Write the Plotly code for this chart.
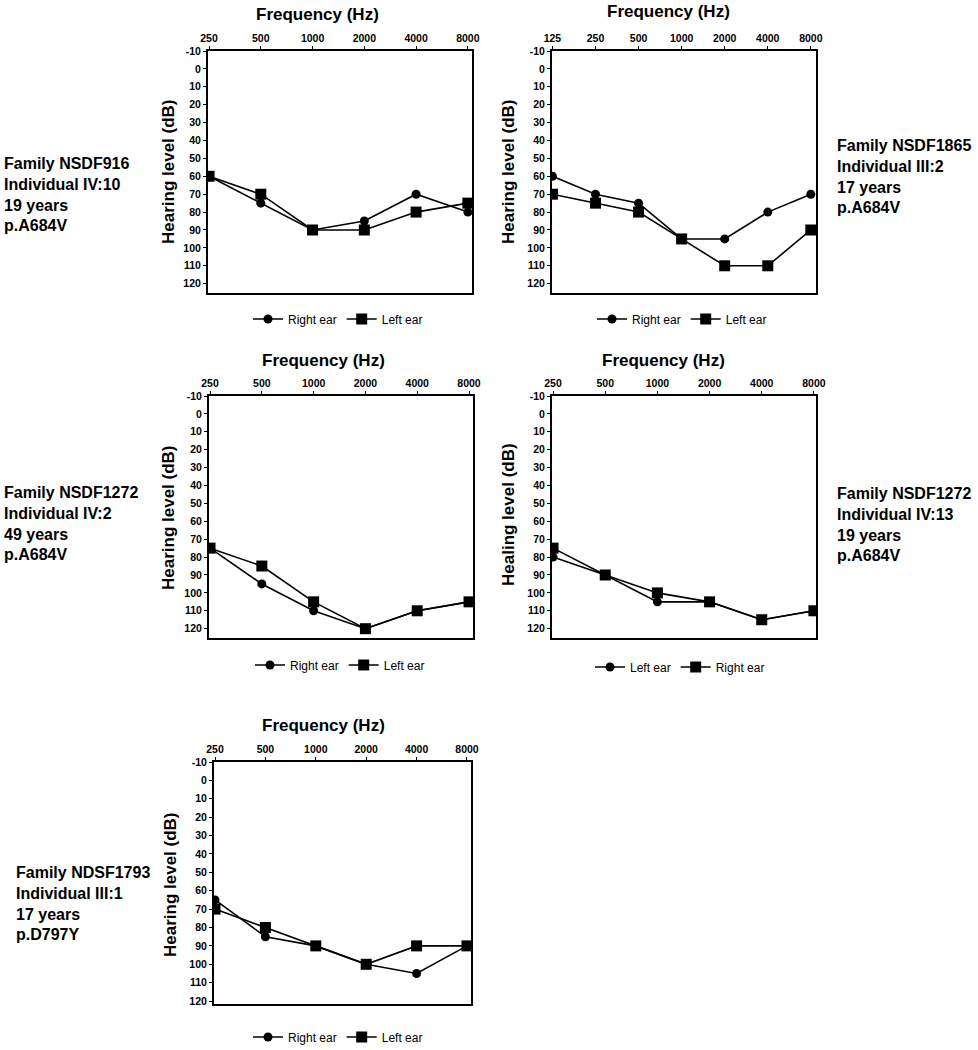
import plotly.graph_objects as go

W, H = 978, 1050
FONT = "Arial, Liberation Sans, sans-serif"

# ---- data ----
freqs_a = ["250", "500", "1000", "2000", "4000", "8000"]
freqs_b = ["125", "250", "500", "1000", "2000", "4000", "8000"]

p1_right = [60, 75, 90, 85, 70, 80]
p1_left = [60, 70, 90, 90, 80, 75]

p2_right = [60, 70, 75, 95, 95, 80, 70]
p2_left = [70, 75, 80, 95, 110, 110, 90]

p3_right = [75, 95, 110, 120, 110, 105]
p3_left = [75, 85, 105, 120, 110, 105]

p4_left = [80, 90, 105, 105, 115, 110]
p4_right = [75, 90, 100, 105, 115, 110]

p5_right = [65, 85, 90, 100, 105, 90]
p5_left = [70, 80, 90, 100, 90, 90]

y_ticks = [-10, 0, 10, 20, 30, 40, 50, 60, 70, 80, 90, 100, 110, 120]
y_tick_text = [str(v) for v in y_ticks]

labels = [
    "Family NSDF916<br>Individual IV:10<br>19 years<br>p.A684V",
    "Family NSDF1865<br>Individual III:2<br>17 years<br>p.A684V",
    "Family NSDF1272<br>Individual IV:2<br>49 years<br>p.A684V",
    "Family NSDF1272<br>Individual IV:13<br>19 years<br>p.A684V",
    "Family NDSF1793<br>Individual III:1<br>17 years<br>p.D797Y",
]

# panels: (freqs, circle series, circle name, square series, square name, ytitle)
panels = [
    (freqs_a, p1_right, "Right ear", p1_left, "Left ear", "Hearing level (dB)"),
    (freqs_b, p2_right, "Right ear", p2_left, "Left ear", "Hearing level (dB)"),
    (freqs_a, p3_right, "Right ear", p3_left, "Left ear", "Hearing level (dB)"),
    (freqs_a, p4_left, "Left ear", p4_right, "Right ear", "Healing level (dB)"),
    (freqs_a, p5_right, "Right ear", p5_left, "Left ear", "Hearing level (dB)"),
]

# ---- layout geometry (pixels) ----
boxes = [  # x0, x1, y0(top), y1(bottom)
    (208, 472, 51, 293),
    (552, 816, 51, 293),
    (209, 473, 396, 638),
    (552, 816, 396, 638),
    (214, 471, 762, 1004),
]
xranges = [(-0.02, 5.08), (-0.01, 6.12), (-0.02, 5.077), (-0.02, 5.04), (-0.02, 5.08)]
yranges = [(125.2, -10), (125.2, -10), (125.2, -10), (125.2, -10), (121.6, -10)]
freq_title_pos = [(317, 15), (668, 11), (323, 360), (663, 360), (323, 725)]
ytitle_pos = [(168, 172), (508, 172), (168, 518), (508, 515), (170, 885)]
legend_pos = [(338, 319), (682, 319), (340, 665), (680, 667), (338, 1037)]
label_pos = [(2, 153), (835, 135), (2, 482), (835, 483), (14, 862)]


def px(x):
    return x / W


def py(y):
    return 1 - y / H


fig = go.Figure()
annotations = []

for i, (fr, c_vals, c_name, s_vals, s_name, ytitle) in enumerate(panels):
    n = i + 1
    xa = "x" if n == 1 else f"x{n}"
    ya = "y" if n == 1 else f"y{n}"
    lg = "legend" if n == 1 else f"legend{n}"
    fig.add_trace(go.Scatter(
        x=fr, y=c_vals, name=c_name, mode="lines+markers",
        line=dict(color="black", width=1.6),
        marker=dict(symbol="circle", size=9, color="black"),
        xaxis=xa, yaxis=ya, legend=lg,
    ))
    fig.add_trace(go.Scatter(
        x=fr, y=s_vals, name=s_name, mode="lines+markers",
        line=dict(color="black", width=1.6),
        marker=dict(symbol="square", size=11, color="black"),
        xaxis=xa, yaxis=ya, legend=lg,
    ))
    x0, x1, y0, y1 = boxes[i]
    key_x = "xaxis" if n == 1 else f"xaxis{n}"
    key_y = "yaxis" if n == 1 else f"yaxis{n}"
    fig.layout[key_x] = dict(
        type="category", categoryorder="array", categoryarray=fr,
        domain=[px(x0), px(x1)], anchor=ya, side="top",
        range=list(xranges[i]), showgrid=False, zeroline=False,
        showline=True, linecolor="black", linewidth=2, mirror=True,
        ticks="outside", ticklen=3, tickcolor="black",
        tickfont=dict(family=FONT, size=10.5, color="black", weight="bold"),
        fixedrange=True, automargin=False,
    )
    fig.layout[key_y] = dict(
        domain=[py(y1), py(y0)], anchor=xa,
        range=list(yranges[i]), tickvals=y_ticks, ticktext=y_tick_text,
        showgrid=False, zeroline=False,
        showline=True, linecolor="black", linewidth=2, mirror=True,
        ticks="outside", ticklen=3, tickcolor="black",
        tickfont=dict(family=FONT, size=10.5, color="black", weight="bold"),
        fixedrange=True, automargin=False,
    )
    fig.layout[lg] = dict(
        orientation="h", x=px(legend_pos[i][0]), y=py(legend_pos[i][1]),
        xanchor="center", yanchor="middle", bgcolor="rgba(0,0,0,0)",
        font=dict(family=FONT, size=12, color="black"),
        itemwidth=30, tracegroupgap=0,
    )
    annotations.append(dict(
        text="Frequency (Hz)", x=px(freq_title_pos[i][0]), y=py(freq_title_pos[i][1]),
        xref="paper", yref="paper", showarrow=False, xanchor="center", yanchor="middle",
        font=dict(family=FONT, size=17, color="black", weight="bold"),
    ))
    annotations.append(dict(
        text=ytitle, x=px(ytitle_pos[i][0]), y=py(ytitle_pos[i][1]),
        xref="paper", yref="paper", showarrow=False, xanchor="center", yanchor="middle",
        textangle=-90,
        font=dict(family=FONT, size=17, color="black", weight="bold"),
    ))
    annotations.append(dict(
        text=labels[i], x=px(label_pos[i][0]), y=py(label_pos[i][1]),
        xref="paper", yref="paper", showarrow=False, xanchor="left", yanchor="top",
        align="left",
        font=dict(family=FONT, size=16, color="black", weight="bold"),
    ))

fig.update_layout(
    width=W, height=H,
    margin=dict(l=0, r=0, t=0, b=0, pad=0, autoexpand=False),
    paper_bgcolor="white", plot_bgcolor="white",
    annotations=annotations, showlegend=True,
    font=dict(family=FONT, color="black"),
)

fig.write_html(
    "out.html",
    config={"displayModeBar": False, "staticPlot": False},
    post_script="document.body.style.margin='0';document.body.style.padding='0';"
                "document.body.style.overflow='hidden';",
)
